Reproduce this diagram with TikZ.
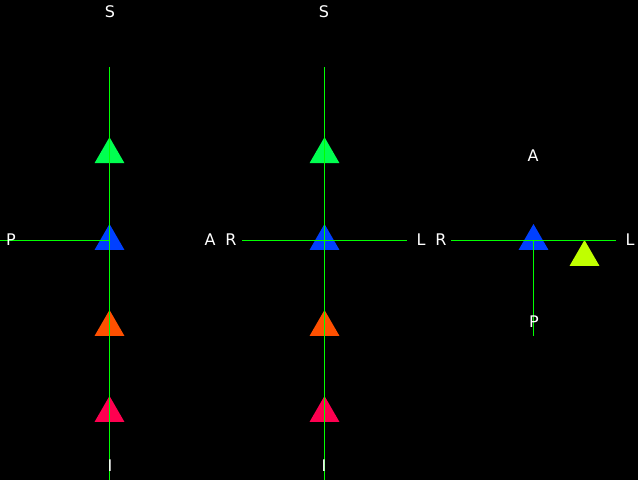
\documentclass[tikz,border=0pt]{standalone}
\usepackage{fontspec}
\setmainfont{DejaVu Sans}
\usetikzlibrary{shapes.geometric}
\definecolor{axisgreen}{HTML}{00FF00}
\definecolor{supgreen}{HTML}{00FF50}
\definecolor{midblue}{HTML}{0040FF}
\definecolor{loworange}{HTML}{FF5000}
\definecolor{infred}{HTML}{FF0050}
\definecolor{sidelime}{HTML}{C0FF00}
\tikzset{
  axis/.style={draw=axisgreen,line width=1pt},
  marker/.style={regular polygon,regular polygon sides=3,inner sep=0pt,outer sep=0pt,minimum size=34.6pt},
  supmark/.style={marker,fill=supgreen},
  midmark/.style={marker,fill=midblue},
  lowmark/.style={marker,fill=loworange},
  infmark/.style={marker,fill=infred},
  sidemark/.style={marker,fill=sidelime},
  lbl/.style={text=white,inner sep=0pt,font=\fontsize{16}{16}\selectfont}
}

\begin{document}
\begin{tikzpicture}[x=1pt,y=-1pt]
  \fill[black] (0,0) rectangle (638,480);
  \useasboundingbox (0,0) rectangle (638,480);

  % first view
  \node[supmark] (green1) at (109.5,154.5) {};
  \node[midmark] (blue1) at (109.5,241.3) {};
  \node[lowmark] (orange1) at (109.5,327.3) {};
  \node[infmark] (red1) at (109.5,413.3) {};
  \coordinate (top1) at (109.5,67);
  \coordinate (bot1) at (109.5,480);
  \coordinate (left1) at (0,240);
  \coordinate (mid1) at (109.5,240);
  \draw[axis] (top1)--(bot1);
  \draw[axis] (left1)--(mid1);
  \node[lbl] (s1) at (110,12) {S};
  \node[lbl] (i1) at (110,466) {I};
  \node[lbl] (p1) at (11,240) {P};
  \node[lbl] (a1) at (210,240) {A};

  % second view
  \node[supmark] (green2) at (324.5,154.5) {};
  \node[midmark] (blue2) at (324.5,241.3) {};
  \node[lowmark] (orange2) at (324.5,327.3) {};
  \node[infmark] (red2) at (324.5,413.3) {};
  \coordinate (top2) at (324.5,67);
  \coordinate (bot2) at (324.5,480);
  \coordinate (left2) at (242,240);
  \coordinate (right2) at (407,240);
  \draw[axis] (top2)--(bot2);
  \draw[axis] (left2)--(right2);
  \node[lbl] (s2) at (324,12) {S};
  \node[lbl] (i2) at (324,466) {I};
  \node[lbl] (r2) at (231,240) {R};
  \node[lbl] (l2) at (421,240) {L};

  % third view
  \node[midmark] (blue3) at (533.5,241.3) {};
  \node[sidemark] (lime3) at (584.5,257.3) {};
  \coordinate (left3) at (451,240);
  \coordinate (right3) at (616,240);
  \coordinate (mid3) at (533.5,240);
  \coordinate (bot3) at (533.5,336);
  \draw[axis] (left3)--(right3);
  \draw[axis] (mid3)--(bot3);
  \node[lbl] (a3) at (533,156) {A};
  \node[lbl] (p3) at (534,322) {P};
  \node[lbl] (r3) at (441,240) {R};
  \node[lbl] (l3) at (630,240) {L};
\end{tikzpicture}
\end{document}
